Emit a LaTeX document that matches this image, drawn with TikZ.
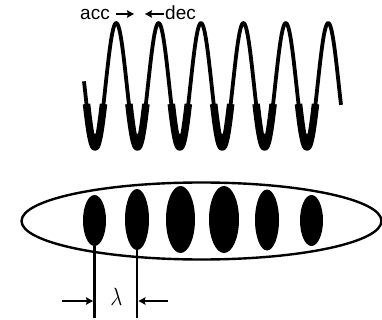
\documentclass[tikz,border=0pt]{standalone}
\usepackage{fontspec}
\setmainfont{Liberation Sans}
\usetikzlibrary{arrows.meta,shapes.geometric}
\tikzset{
  blob/.style={ellipse, fill=black, draw=none, inner sep=0pt},
  lbl/.style={inner sep=0pt, font=\fontsize{19}{19}\selectfont},
  tip/.style={line width=2.4pt, -{Stealth[length=7pt,width=7.5pt,inset=1pt]}},
  dimline/.style={line width=2.6pt},
}
\begin{document}
\begin{tikzpicture}[x=1pt,y=-1pt]
\useasboundingbox (0,0) rectangle (382,320);
% wave
\draw[line width=3.8pt, line join=round] plot[domain=84:341, samples=300, smooth] (\x, {85+62*cos((\x-95)*8.4906)});
\foreach \k in {0,...,5}{
  \pgfmathsetmacro{\t}{95+42.4*\k}
  \draw[line width=7.5pt, line join=round] plot[domain={\t-8.5}:{\t+8.5}, samples=40, smooth] (\x, {85+62*cos((\x-95)*8.4906)});
  \fill plot[domain={\t-4.5}:{\t+4.5}, samples=20, smooth] (\x, {85+62*cos((\x-95)*8.4906)}) -- cycle;
}
% labels
\node[lbl, anchor=base west] (acc) at (80,20) {acc};
\node[lbl, anchor=base west] (dec) at (165,20) {dec};
\coordinate (accA) at (116,14);
\coordinate (accB) at (134,14);
\coordinate (decA) at (164,14);
\coordinate (decB) at (145,14);
\draw[tip] (accA) -- (accB);
\draw[tip] (decA) -- (decB);
% envelope
\node[ellipse, draw, line width=2.4pt, minimum width=360pt, minimum height=77pt, inner sep=0pt] (env) at (201.5,221) {};
% bunches
\node[blob, minimum width=23pt, minimum height=51pt] (b1) at (94.5,220.5) {};
\node[blob, minimum width=24pt, minimum height=61pt] (b2) at (137,219.5) {};
\node[blob, minimum width=29pt, minimum height=67pt] (b3) at (180.5,219.5) {};
\node[blob, minimum width=30pt, minimum height=67pt] (b4) at (224,219.5) {};
\node[blob, minimum width=24pt, minimum height=61pt] (b5) at (267,220) {};
\node[blob, minimum width=23pt, minimum height=51pt] (b6) at (311.5,220.5) {};
% lambda dimension
\coordinate (l1) at (94.5,318);
\coordinate (l2) at (137,318);
\draw[dimline] (b1.south) -- (l1);
\draw[dimline] (b2.south) -- (l2);
\coordinate (la) at (62,301);
\coordinate (lb) at (93,301);
\coordinate (ra) at (168,301);
\coordinate (rb) at (138.5,301);
\draw[tip] (la) -- (lb);
\draw[tip] (ra) -- (rb);
\node[inner sep=0pt, xscale=0.85, font=\fontsize{28}{28}\selectfont] (lam) at (116.5,297) {$\lambda$};
\end{tikzpicture}
\end{document}
